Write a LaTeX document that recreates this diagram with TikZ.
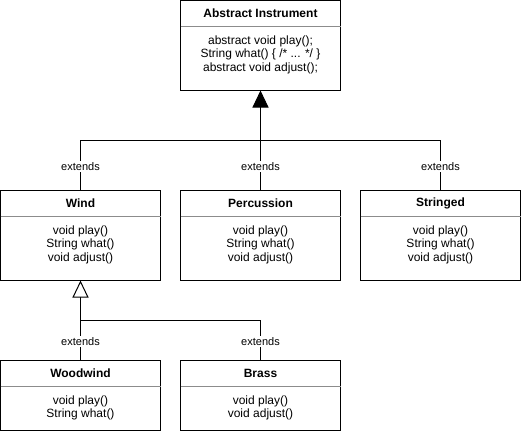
\documentclass[tikz,border=0pt]{standalone}
\usepackage{fontspec}
\setmainfont{Liberation Sans}
\usetikzlibrary{calc,arrows.meta}
\begin{document}
\begin{tikzpicture}[x=1pt,y=-1pt,
  cls/.style={draw,line width=1pt,minimum width=160pt,inner sep=0pt,outer sep=0pt,anchor=north west},
  sepline/.style={draw=black!45,line width=0.8pt},
  hdr/.style={font=\fontsize{12}{14}\selectfont\bfseries,inner sep=0pt,anchor=center},
  body/.style={font=\fontsize{12}{13.5}\selectfont,align=center,inner sep=0pt,anchor=north},
  conn/.style={draw,line width=1pt},
  lbl/.style={font=\fontsize{11}{13}\selectfont,fill=white,inner sep=1pt,yshift=-1pt},
  filltip/.style={-{Triangle[length=17pt,width=16pt]}},
  opentip/.style={-{Triangle[open,length=17pt,width=16pt,fill=white]}}]
\useasboundingbox (0,0) rectangle (521,431);
% boxes
\node[cls,minimum height=90pt] (abs) at (180.5,0.5) {};
\node[cls,minimum height=90pt] (wind) at (0.5,190.5) {};
\node[cls,minimum height=90pt] (perc) at (180.5,190.5) {};
\node[cls,minimum height=90pt] (str) at (360.5,190.5) {};
\node[cls,minimum height=70pt] (wood) at (0.5,360.5) {};
\node[cls,minimum height=70pt] (brass) at (180.5,360.5) {};
% separators
\foreach \b in {abs,wind,perc,str,wood,brass}{
  \draw[sepline] ($(\b.north west)+(0,26)$) -- ($(\b.north east)+(0,26)$);
}
% headers
\node[hdr] (absh) at ($(abs.north)+(0,13)$) {Abstract Instrument};
\node[hdr] (windh) at ($(wind.north)+(0,13)$) {Wind};
\node[hdr] (perch) at ($(perc.north)+(0,13)$) {Percussion};
\node[hdr] (strh) at ($(str.north)+(0,13)$) {Stringed};
\node[hdr] (woodh) at ($(wood.north)+(0,13)$) {Woodwind};
\node[hdr] (brassh) at ($(brass.north)+(0,13)$) {Brass};
% bodies
\node[body] (absb) at ($(abs.north)+(0,35)$) {abstract void play();\\String what() \{ /* ... */ \}\\abstract void adjust();};
\node[body] (windb) at ($(wind.north)+(0,35)$) {void play()\\String what()\\void adjust()};
\node[body] (percb) at ($(perc.north)+(0,35)$) {void play()\\String what()\\void adjust()};
\node[body] (strb) at ($(str.north)+(0,35)$) {void play()\\String what()\\void adjust()};
\node[body] (woodb) at ($(wood.north)+(0,35)$) {void play()\\String what()};
\node[body] (brassb) at ($(brass.north)+(0,35)$) {void play()\\void adjust()};
% buses
\coordinate (busA) at (260.5,140.5);
\coordinate (busB) at (80.5,320.5);
% connectors
\draw[conn,filltip] (wind.north) -- node[lbl]{extends} (wind.north |- busA) -| (abs.south);
\draw[conn] (perc.north) -- node[lbl]{extends} (busA);
\draw[conn] (str.north) -- node[lbl]{extends} (str.north |- busA) -- (busA);
\draw[conn,opentip] (wood.north) -- node[lbl]{extends} (busB) -- (wind.south);
\draw[conn] (brass.north) -- node[lbl]{extends} (brass.north |- busB) -- (busB);
\end{tikzpicture}
\end{document}
